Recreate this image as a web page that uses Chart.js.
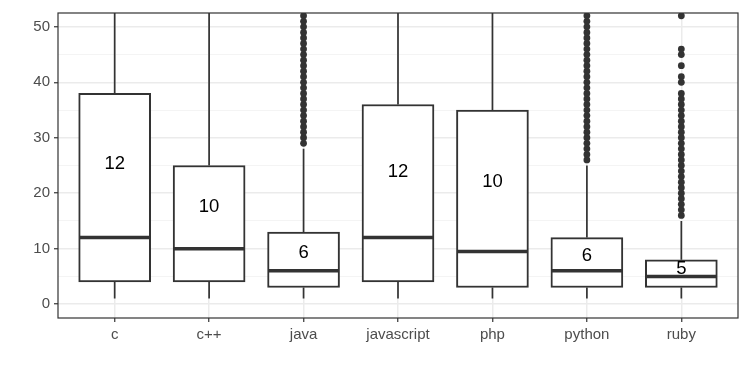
<!DOCTYPE html>
<html>
<head>
<meta charset="utf-8">
<script src="https://cdn.jsdelivr.net/npm/chart.js@4.4.0/dist/chart.umd.min.js"></script>
<style>
  html, body { margin: 0; padding: 0; background: #fff; }
</style>
</head>
<body>
<canvas id="box" width="747" height="374"></canvas>
<script>
// box statistics per language
const langs        = ['c', 'c++', 'java', 'javascript', 'php', 'python', 'ruby'];
const whiskerLow   = [1, 1, 1, 1, 1, 1, 1];
const q1           = [4, 4, 3, 4, 3, 3, 3];
const median       = [12, 10, 6, 12, 9.5, 6, 5];
const q3           = [38, 25, 13, 36, 35, 12, 8];
const whiskerHigh  = [95, 57, 28, 90, 86, 25, 15];   // upper ends past 52.5 are cut off
const medianLabels = ['12', '10', '6', '12', '10', '6', '5'];
const labelY       = [25.3, 17.5, 9.3, 23.9, 22.1, 8.75, 6.4];

const outliersJava   = [29, 30, 31, 32, 33, 34, 35, 36, 37, 38, 39, 40, 41, 42, 43, 44, 45, 46, 47, 48, 49, 50, 51, 52, 53, 54];
const outliersPython = [26, 27, 28, 29, 30, 31, 32, 33, 34, 35, 36, 37, 38, 39, 40, 41, 42, 43, 44, 45, 46, 47, 48, 49, 50, 51, 52, 53, 54];
const outliersRuby   = [16, 17, 18, 19, 20, 21, 22, 23, 24, 25, 26, 27, 28, 29, 30, 31, 32, 33, 34, 35, 36, 37, 38, 40, 41, 43, 45, 46, 52];

const yTicks = [0, 5, 10, 15, 20, 25, 30, 35, 40, 45, 50];
const yMajor = [0, 10, 20, 30, 40, 50];

const INK = '#333333';
const isMajor = c => c.tick && yMajor.includes(c.tick.value);

const boxData = langs.map((_, i) => ({ x: i, y: [q1[i], q3[i]] }));
const whiskerData = langs.flatMap((_, i) => [
  { x: i, y: whiskerLow[i] }, { x: i, y: q1[i] }, { x: i, y: null },
  { x: i, y: q3[i] }, { x: i, y: whiskerHigh[i] }, { x: i, y: null },
]);
const medianData = langs.flatMap((_, i) => [
  { x: i - 0.375, y: median[i] }, { x: i + 0.375, y: median[i] }, { x: i + 0.375, y: null },
]);
const outlierData = [
  ...outliersJava.map(v => ({ x: 2, y: v })),
  ...outliersPython.map(v => ({ x: 5, y: v })),
  ...outliersRuby.map(v => ({ x: 6, y: v })),
];

// median numbers and the panel frame
const panelPlugin = {
  id: 'panel',
  afterDatasetsDraw(chart) {
    const { ctx, chartArea: a, scales: { x, y } } = chart;
    ctx.save();
    ctx.fillStyle = '#000';
    ctx.font = '18.5px "Liberation Sans", Arial, sans-serif';
    ctx.textAlign = 'center';
    ctx.textBaseline = 'middle';
    medianLabels.forEach((t, i) => {
      ctx.fillText(t, x.getPixelForValue(i), y.getPixelForValue(labelY[i]));
    });
    ctx.strokeStyle = INK;
    ctx.lineWidth = 1.2;
    ctx.strokeRect(a.left, a.top, a.right - a.left, a.bottom - a.top);
    ctx.restore();
  },
};

Chart.defaults.font.family = '"Liberation Sans", Arial, sans-serif';

new Chart(document.getElementById('box').getContext('2d'), {
  type: 'bar',
  data: {
    datasets: [
      {
        type: 'line', data: whiskerData, borderColor: INK, borderWidth: 1.7,
        pointRadius: 0, spanGaps: false, clip: 0, order: 4,
      },
      {
        type: 'bar', data: boxData, backgroundColor: '#ffffff', borderColor: INK,
        borderWidth: 2, borderSkipped: false, barThickness: 72, clip: 0, order: 3,
      },
      {
        type: 'line', data: medianData, borderColor: INK, borderWidth: 3.5,
        borderCapStyle: 'butt', pointRadius: 0, spanGaps: false, clip: 0, order: 2,
      },
      {
        type: 'scatter', data: outlierData, backgroundColor: INK, borderWidth: 0,
        pointRadius: 3.4, showLine: false, clip: 0, order: 1,
      },
    ],
  },
  options: {
    responsive: false,
    animation: false,
    events: [],
    layout: { padding: { top: 10, right: 9, left: 0, bottom: 0 } },
    plugins: { legend: { display: false }, tooltip: { enabled: false } },
    scales: {
      x: {
        type: 'linear', min: -0.6, max: 6.6, offset: false,
        afterBuildTicks: s => { s.ticks = langs.map((_, i) => ({ value: i })); },
        afterFit: s => { s.height = 56; },
        ticks: {
          callback: v => langs[v], color: '#4D4D4D', font: { size: 15 },
          padding: 4, maxRotation: 0, autoSkip: false,
        },
        grid: { offset: false, color: '#EBEBEB', lineWidth: 1.5, tickColor: INK, tickLength: 4, tickWidth: 1.2 },
        border: { display: false },
      },
      y: {
        type: 'linear', min: -2.5, max: 52.5,
        afterBuildTicks: s => { s.ticks = yTicks.map(v => ({ value: v })); },
        afterFit: s => { s.width = 58; },
        ticks: {
          callback: v => yMajor.includes(v) ? String(v) : '',
          color: '#4D4D4D', font: { size: 15 }, padding: 4, autoSkip: false,
        },
        grid: {
          color: c => isMajor(c) ? '#EBEBEB' : '#F4F4F4',
          lineWidth: c => isMajor(c) ? 1.5 : 1,
          tickColor: c => isMajor(c) ? INK : 'rgba(0,0,0,0)',
          tickLength: 4, tickWidth: 1.2,
        },
        border: { display: false },
      },
    },
  },
  plugins: [panelPlugin],
});
</script>
</body>
</html>
